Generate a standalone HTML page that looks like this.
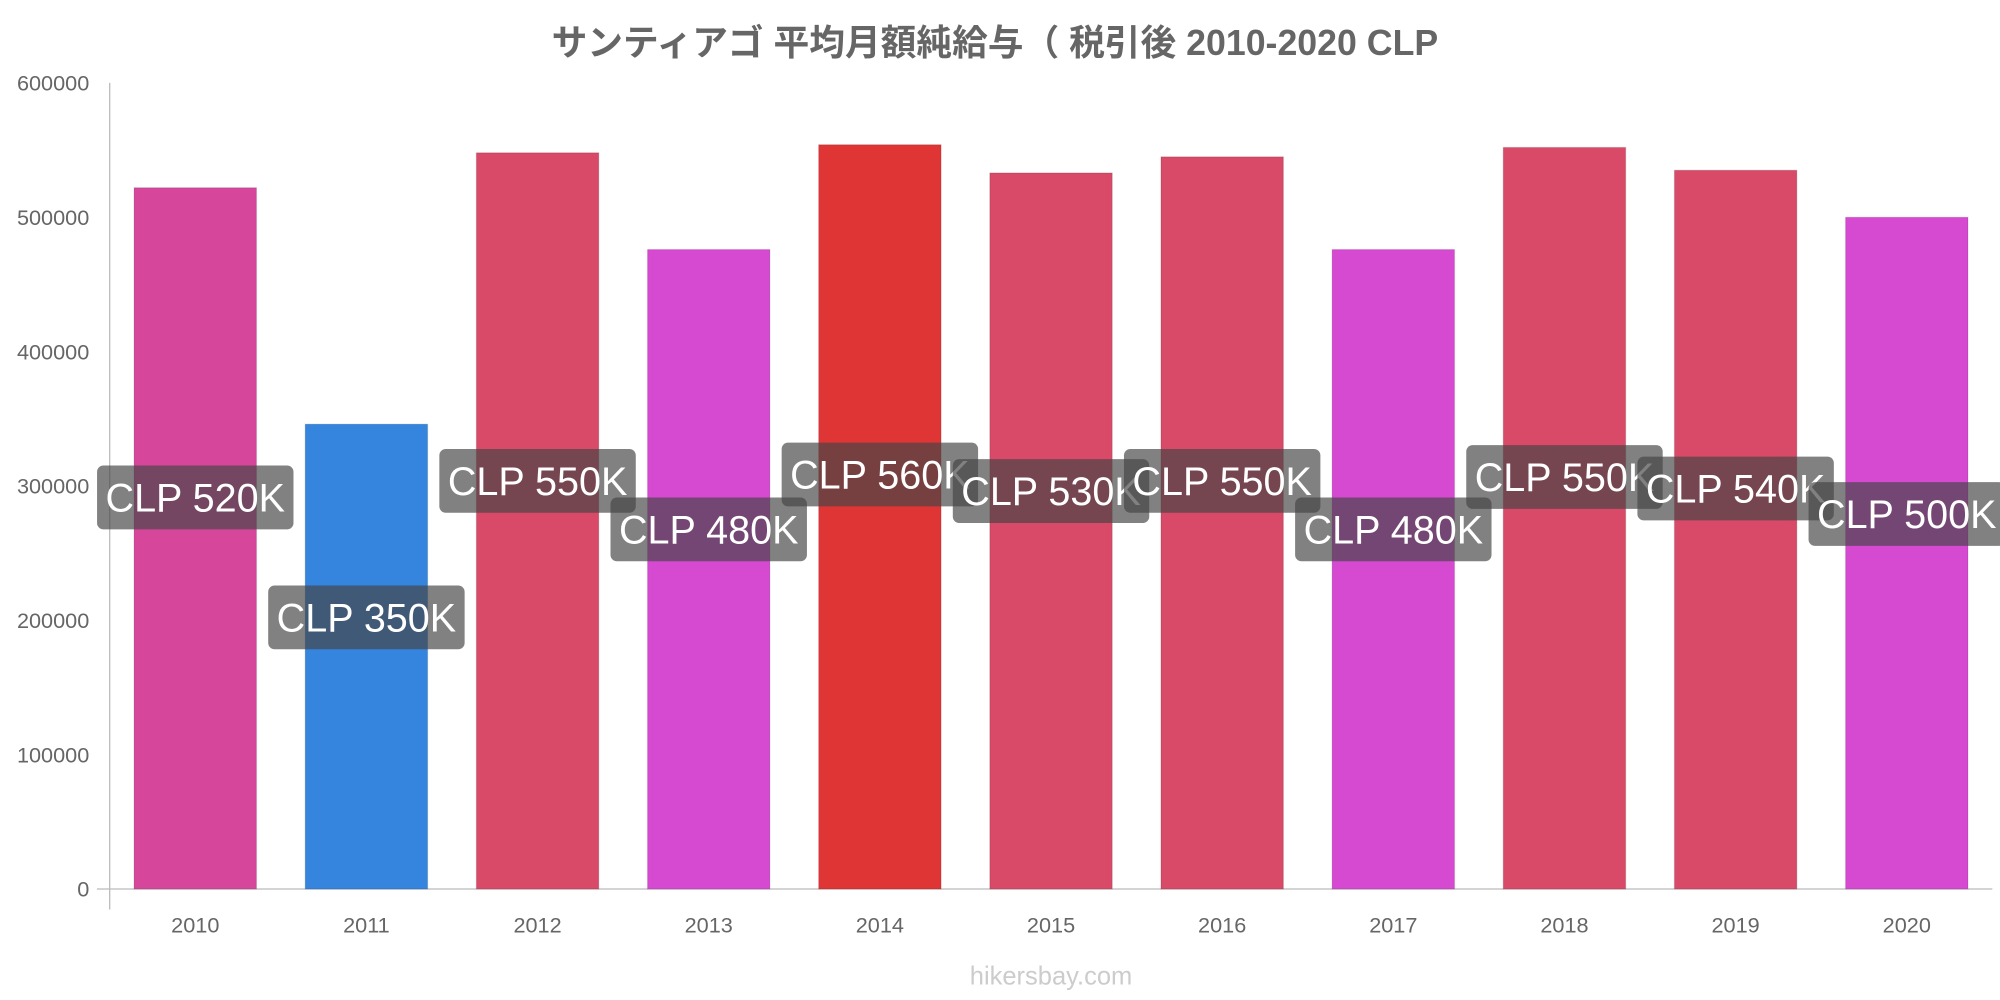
<!DOCTYPE html>
<html><head><meta charset="utf-8">
<style>
html,body{margin:0;padding:0;background:#fff;overflow:hidden}
#wrap{width:1568px;height:784px;transform:scale(1.27551);transform-origin:0 0;position:relative}
svg{font-family:"Liberation Sans","Noto Sans CJK JP",sans-serif}
</style></head>
<body>
<div id="wrap">
<svg id="chart" width="1568" height="784">
<text x="780" y="43" text-anchor="middle" font-size="28" font-weight="bold" fill="#666">サンティアゴ 平均月額純給与（ 税引後 2010-2020 CLP</text>
<text x="824" y="772" text-anchor="middle" font-size="20" fill="#ccc">hikersbay.com</text>
</svg>
</div>
<script>
const years=["2010","2011","2012","2013","2014","2015","2016","2017","2018","2019","2020"];
const values=[522000,346000,548000,476000,554000,533000,545000,476000,552000,535000,500000];
const labels=["CLP 520K","CLP 350K","CLP 550K","CLP 480K","CLP 560K","CLP 530K","CLP 550K","CLP 480K","CLP 550K","CLP 540K","CLP 500K"];
const colors=["#d6479b","#3584de","#d84a67","#d64ad2","#e03535","#d84a67","#d84a67","#d64ad2","#d84a67","#d84a67","#d64ad2"];
const yTicks=[0,100000,200000,300000,400000,500000,600000];
const labelOffsets=[390,484,377,415,372,385,377,415,374,383,403];
const svg=document.getElementById('chart');
const NS='http://www.w3.org/2000/svg';
const x0=86,x1=1562,yZero=697,yTop=65,yMax=600000;
const band=(x1-x0)/years.length;
const y=v=>yZero-(v/yMax)*(yZero-yTop);
const xc=i=>x0+band*(i+0.5);
function mk(t,a){const e=document.createElementNS(NS,t);for(const k in a)e.setAttribute(k,a[k]);svg.appendChild(e);return e;}
let ax=mk('line',{x1:x0,y1:yTop,x2:x0,y2:713,stroke:'#bbb','stroke-width':1});


let bx=mk('line',{x1:76,y1:yZero,x2:x1,y2:yZero,stroke:'#bbb','stroke-width':1});


yTicks.forEach(v=>{
 const t=mk('text',{x:70,y:y(v)+6,'text-anchor':'end','font-size':17,fill:'#666'});
 t.textContent=String(v);
 
 
});
years.forEach((yr,i)=>{
 const r=mk('rect',{x:xc(i)-48,y:y(values[i]),width:96,height:yZero-y(values[i]),fill:colors[i],stroke:'rgba(0,0,0,0.1)'});
 
 
 const t=mk('text',{x:xc(i),y:731,'text-anchor':'middle','font-size':17,fill:'#666'});
 t.textContent=yr;
 
 
});
years.forEach((yr,i)=>{
 const cy=labelOffsets[i];
 const r=mk('rect',{x:xc(i)-77,y:cy-25,width:154,height:50,rx:5,fill:'rgba(70,70,70,0.68)'});
 
 
 const t=mk('text',{x:xc(i),y:cy+11,'text-anchor':'middle','font-size':31,fill:'#fff'});
 t.textContent=labels[i];
 
 
});
</script>
</body></html>
